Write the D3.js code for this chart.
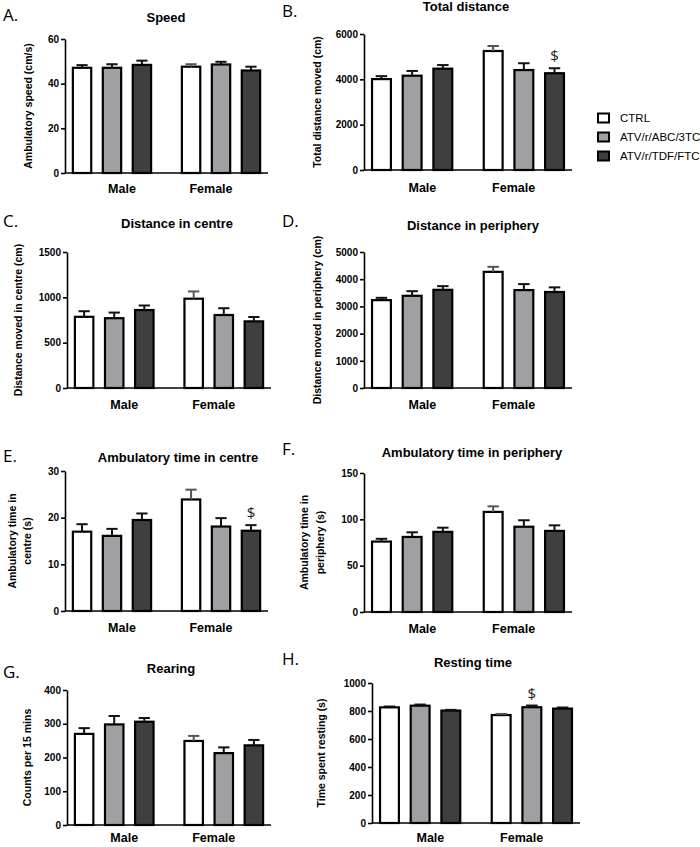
<!DOCTYPE html>
<html><head><meta charset="utf-8">
<script src="https://cdn.jsdelivr.net/npm/d3@7"></script>
<style>body{margin:0;background:#fff}</style>
</head><body><svg id="c" width="700" height="847"></svg>
<script>
// ---------- DATA ----------
const groups = ["Male", "Female"];
const series = ["CTRL", "ATV/r/ABC/3TC", "ATV/r/TDF/FTC"];
const panelLetters = ["A.", "B.", "C.", "D.", "E.", "F.", "G.", "H."];
const panelTitles = ["Speed", "Total distance", "Distance in centre", "Distance in periphery",
  "Ambulatory time in centre", "Ambulatory time in periphery", "Rearing", "Resting time"];
const yAxisLabels = [["Ambulatory speed (cm/s)"], ["Total distance moved (cm)"],
  ["Distance moved in centre (cm)"], ["Distance moved in periphery (cm)"],
  ["Ambulatory time in", "centre (s)"], ["Ambulatory time in", "periphery (s)"],
  ["Counts per 15 mins"], ["Time spent resting (s)"]];
const yMax = [60, 6000, 1500, 5000, 30, 150, 400, 1000];
const yTickStep = [20, 2000, 500, 1000, 10, 50, 100, 200];
// order: Male CTRL, Male ABC/3TC, Male TDF/FTC, Female CTRL, Female ABC/3TC, Female TDF/FTC
const speedMean = [47.1, 47.1, 48.4, 47.6, 48.6, 45.9];
const speedSEM = [1.2, 1.6, 1.9, 1.1, 1.2, 1.7];
const totalDistMean = [4010, 4160, 4470, 5250, 4410, 4270];
const totalDistSEM = [130, 210, 160, 220, 300, 220];
const centreDistMean = [785, 770, 860, 985, 805, 735];
const centreDistSEM = [62, 62, 50, 80, 75, 48];
const periphDistMean = [3230, 3390, 3610, 4270, 3600, 3530];
const periphDistSEM = [85, 170, 135, 185, 220, 170];
const centreTimeMean = [17.0, 16.1, 19.5, 23.9, 18.1, 17.2];
const centreTimeSEM = [1.6, 1.5, 1.4, 2.1, 1.8, 1.2];
const periphTimeMean = [76, 81, 86.5, 108, 92, 87.5];
const periphTimeSEM = [3, 5, 4.5, 6, 7, 6];
const rearingMean = [270, 298, 306, 249, 213, 236];
const rearingSEM = [17, 25, 11, 15, 17, 16];
const restingMean = [826, 838, 803, 771, 827, 817];
const restingSEM = [6, 8, 5, 8, 12, 8];
const seriesColors = ["#ffffff", "#a0a0a4", "#3f3f3f"];
// significance markers: panel index, group, series index, label
const sigPanel = [1, 4, 7];
const sigGroup = ["Female", "Female", "Female"];
const sigSeries = [2, 2, 1];
const sigLabel = ["$", "$", "$"];

const means = [speedMean, totalDistMean, centreDistMean, periphDistMean, centreTimeMean, periphTimeMean, rearingMean, restingMean];
const sems = [speedSEM, totalDistSEM, centreDistSEM, periphDistSEM, centreTimeSEM, periphTimeSEM, rearingSEM, restingSEM];

// ---------- LAYOUT ----------
const layout = [
  {x0: 65, x1: 268, yT: 39, yB: 173, letter: [3, 21], title: [166, 22], ylab: [28], grp: 193},
  {x0: 364, x1: 572, yT: 34, yB: 170, letter: [282, 17], title: [466, 11], ylab: [317], grp: 192},
  {x0: 67, x1: 271, yT: 252, yB: 388, letter: [3, 227], title: [177, 228], ylab: [18], grp: 409},
  {x0: 364, x1: 572, yT: 252, yB: 388, letter: [282, 227], title: [473, 230], ylab: [317], grp: 409},
  {x0: 65, x1: 268, yT: 471, yB: 611, letter: [3, 462], title: [178, 462], ylab: [12, 27], grp: 632},
  {x0: 364, x1: 572, yT: 473, yB: 612, letter: [282, 455], title: [472, 457], ylab: [304, 320], grp: 633},
  {x0: 67, x1: 271, yT: 690, yB: 825, letter: [3, 678], title: [171, 673], ylab: [27], grp: 842},
  {x0: 372, x1: 580, yT: 683, yB: 823, letter: [282, 665], title: [473, 667], ylab: [321], grp: 842}
];

const svg = d3.select("#c");
const SANS = "'Liberation Sans', Arial, Helvetica, sans-serif";

layout.forEach((L, i) => {
  const g = svg.append("g");
  const x = d3.scaleBand().domain(groups).range([L.x0, L.x1]).paddingInner(0.264).paddingOuter(0.063);
  const xs = d3.scaleBand().domain(d3.range(series.length)).range([0, x.bandwidth()]).paddingInner(0.32).paddingOuter(0);
  const y = d3.scaleLinear().domain([0, yMax[i]]).range([L.yB, L.yT]);
  const xl = d3.scalePoint().domain(groups).range([L.x0, L.x1]).padding(0.64);

  // bars
  const rows = [];
  groups.forEach((gr, gi) => series.forEach((s, si) => {
    rows.push({gr, si, v: means[i][gi * 3 + si], e: sems[i][gi * 3 + si]});
  }));
  g.selectAll("rect.bar").data(rows).join("rect")
    .attr("x", d => x(d.gr) + xs(d.si) + 1)
    .attr("y", d => y(d.v))
    .attr("width", xs.bandwidth() - 2)
    .attr("height", d => y(0) - y(d.v))
    .attr("fill", d => seriesColors[d.si])
    .attr("stroke", "#000").attr("stroke-width", 2.2);
  // error bars
  const capW = xs.bandwidth() * 0.55;
  rows.forEach(d => {
    const cx = x(d.gr) + xs(d.si) + xs.bandwidth() / 2;
    const col = (d.gr === "Female" && d.si === 0) ? "#555" : "#111";
    g.append("line").attr("x1", cx).attr("x2", cx).attr("y1", y(d.v)).attr("y2", y(d.v + d.e))
      .attr("stroke", col).attr("stroke-width", 2);
    g.append("line").attr("x1", cx - capW / 2).attr("x2", cx + capW / 2).attr("y1", y(d.v + d.e)).attr("y2", y(d.v + d.e))
      .attr("stroke", col).attr("stroke-width", 2);
  });

  // y axis
  const ay = g.append("g").attr("transform", `translate(${L.x0},0)`)
    .call(d3.axisLeft(y).tickValues(d3.range(0, yMax[i] + 1e-9, yTickStep[i])).tickSize(4).tickSizeOuter(0).tickPadding(2).tickFormat(d3.format("d")));
  ay.select(".domain").attr("stroke", "#000").attr("stroke-width", 1.6);
  ay.selectAll(".tick line").attr("stroke", "#000").attr("stroke-width", 1.6);
  ay.selectAll(".tick text").attr("font-family", SANS).attr("font-weight", "bold").attr("font-size", 10).attr("fill", "#000");
  // x axis line
  g.append("line").attr("x1", L.x0).attr("x2", L.x1).attr("y1", L.yB).attr("y2", L.yB)
    .attr("stroke", "#000").attr("stroke-width", 1.6);

  // group labels
  groups.forEach(gr => {
    g.append("text").attr("x", xl(gr)).attr("y", L.grp).attr("text-anchor", "middle")
      .attr("font-family", SANS).attr("font-weight", "bold").attr("font-size", 12.5).text(gr);
  });
  // title
  g.append("text").attr("x", L.title[0]).attr("y", L.title[1]).attr("text-anchor", "middle")
    .attr("font-family", SANS).attr("font-weight", "bold").attr("font-size", 13).text(panelTitles[i]);
  // letter
  g.append("text").attr("x", L.letter[0]).attr("y", L.letter[1])
    .attr("font-family", "'Open Sans', 'Noto Sans', sans-serif").attr("font-size", 17).text(panelLetters[i]);
  // y label
  const yc = (L.yT + L.yB) / 2;
  yAxisLabels[i].forEach((t, li) => {
    g.append("text").attr("transform", `translate(${L.ylab[li]},${yc}) rotate(-90)`)
      .attr("text-anchor", "middle").attr("dy", "0.35em")
      .attr("font-family", SANS).attr("font-weight", "bold").attr("font-size", 10.5).text(t);
  });

  // significance
  sigPanel.forEach((p, k) => {
    if (p !== i) return;
    const gi = groups.indexOf(sigGroup[k]);
    const si = sigSeries[k];
    const v = means[i][gi * 3 + si] + sems[i][gi * 3 + si];
    const cx = x(sigGroup[k]) + xs(si) + xs.bandwidth() / 2;
    g.append("text").attr("x", cx).attr("y", y(v) - 7).attr("text-anchor", "middle")
      .attr("font-family", "'Open Sans', 'Noto Sans', sans-serif").attr("font-size", 15).attr("fill", "#222").text(sigLabel[k]);
  });
});

// legend
const leg = svg.append("g");
series.forEach((s, si) => {
  const yy = 118 + si * 19;
  leg.append("rect").attr("x", 598).attr("y", yy - 4.5).attr("width", 11).attr("height", 9)
    .attr("fill", seriesColors[si]).attr("stroke", "#000").attr("stroke-width", 2);
  leg.append("text").attr("x", 620).attr("y", yy).attr("dy", "0.35em")
    .attr("font-family", SANS).attr("font-size", 11.5).text(s);
});
</script></body></html>
